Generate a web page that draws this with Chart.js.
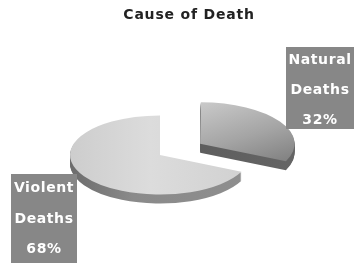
<!DOCTYPE html>
<html>
<head>
<meta charset="utf-8">
<script src="https://cdn.jsdelivr.net/npm/chart.js@4.4.1/dist/chart.umd.min.js"></script>
<style>
  html, body { margin: 0; padding: 0; background: #fff; }
  #wrap { width: 354px; height: 266px; }
</style>
</head>
<body>
<div id="wrap"><canvas id="deathChart" width="354" height="266"></canvas></div>
<script>
// ===== DATA =====
const chartTitle = 'Cause of Death';
const categories = ['Natural Deaths', 'Violent Deaths'];
const shares = [32, 68];

// ===== LOOK =====
const PIE_X = 160, PIE_Y = 155;   // where the pie centre lands on screen
const PIE_R = 90;                 // radius before flattening
const SQUASH = 0.44;              // vertical flattening for the tilted look
const DEPTH = 9;                  // rim thickness in px
const labelBoxes = [
    { x: 286, y: 47, w: 80, h: 82, cx: 320, lines: [60, 90, 120] },
    { x: 11, y: 174, w: 66, h: 89, cx: 44, lines: [188, 219, 249] }
];

function pieCentre(chart) {
    const a = chart.chartArea;
    return { x: (a.left + a.right) / 2, y: (a.top + a.bottom) / 2 };
}

// put the pie at PIE_X/PIE_Y and flatten it
function applyTilt(ctx, cx, cy, drop) {
    ctx.translate(PIE_X, PIE_Y + drop);
    ctx.scale(1, SQUASH);
    ctx.translate(-cx, -cy);
}

function sideFill(ctx, index, cx) {
    const g = ctx.createLinearGradient(cx - PIE_R, 0, cx + PIE_R, 0);
    if (index === 0) {
        g.addColorStop(0, '#585858');
        g.addColorStop(1, '#646464');
    } else {
        g.addColorStop(0, '#6c6c6c');
        g.addColorStop(0.35, '#8a8a8a');
        g.addColorStop(1, '#8e8e8e');
    }
    return g;
}

const tiltPlugin = {
    id: 'tilt3d',
    beforeDatasetsDraw(chart) {
        const ctx = chart.ctx;
        const arcs = chart.getDatasetMeta(0).data;
        const cx = arcs[0].x, cy = arcs[0].y;
        // rim: stacked copies of each slice, drawn darker
        for (let d = DEPTH; d >= 1; d--) {
            ctx.save();
            applyTilt(ctx, cx, cy, d);
            arcs.forEach((arc, i) => {
                const side = Object.assign(Object.create(Object.getPrototypeOf(arc)), arc);
                side.options = Object.assign({}, arc.options, { backgroundColor: sideFill(ctx, i, cx), borderWidth: 0 });
                side.draw(ctx);
            });
            ctx.restore();
        }
        ctx.save();
        applyTilt(ctx, cx, cy, 0);
    },
    afterDatasetsDraw(chart) {
        chart.ctx.restore();
    }
};

const spacingPlugin = {
    id: 'titleSpacing',
    beforeDraw(chart) { chart.ctx.letterSpacing = '0.8px'; },
    afterDraw(chart) {
        const ctx = chart.ctx;
        ctx.save();
        ctx.letterSpacing = '0.6px';
        ctx.font = 'bold 14px "DejaVu Sans"';
        ctx.textAlign = 'center';
        ctx.textBaseline = 'middle';
        labelBoxes.forEach((box, i) => {
            ctx.fillStyle = '#878787';
            ctx.fillRect(box.x, box.y, box.w, box.h);
            const words = categories[i].split(' ');
            const lines = [words[0], words[1], shares[i] + '%'];
            ctx.fillStyle = '#ffffff';
            lines.forEach((t, j) => ctx.fillText(t, box.cx, box.lines[j]));
        });
        ctx.restore();
        ctx.letterSpacing = '0px';
    }
};

function topFill(context) {
    const chart = context.chart;
    if (!chart.chartArea) return '#d6d6d6';
    const ctx = chart.ctx;
    const c = pieCentre(chart);
    if (context.dataIndex === 0) {
        const g = ctx.createLinearGradient(c.x, c.y - PIE_R, c.x + PIE_R, c.y + PIE_R * 0.45);
        g.addColorStop(0, '#c8c8c8');
        g.addColorStop(0.55, '#a4a4a4');
        g.addColorStop(1, '#808080');
        return g;
    }
    const g = ctx.createLinearGradient(c.x - PIE_R, 0, c.x + PIE_R, 0);
    g.addColorStop(0, '#cdcdcd');
    g.addColorStop(0.45, '#dcdcdc');
    g.addColorStop(1, '#d0d0d0');
    return g;
}

new Chart(document.getElementById('deathChart'), {
    type: 'pie',
    data: {
        labels: categories,
        datasets: [{
            data: shares,
            backgroundColor: topFill,
            borderWidth: 0,
            offset: [190, 0],
            clip: false
        }]
    },
    options: {
        responsive: false,
        animation: false,
        radius: PIE_R,
        layout: { padding: { left: 24 } },
        plugins: {
            legend: { display: false },
            tooltip: { enabled: false },
            title: {
                display: true,
                text: chartTitle,
                color: '#222222',
                font: { family: 'DejaVu Sans', size: 14, weight: 'bold' },
                padding: { top: 7, bottom: 10 }
            }
        }
    },
    plugins: [tiltPlugin, spacingPlugin]
});
</script>
</body>
</html>
